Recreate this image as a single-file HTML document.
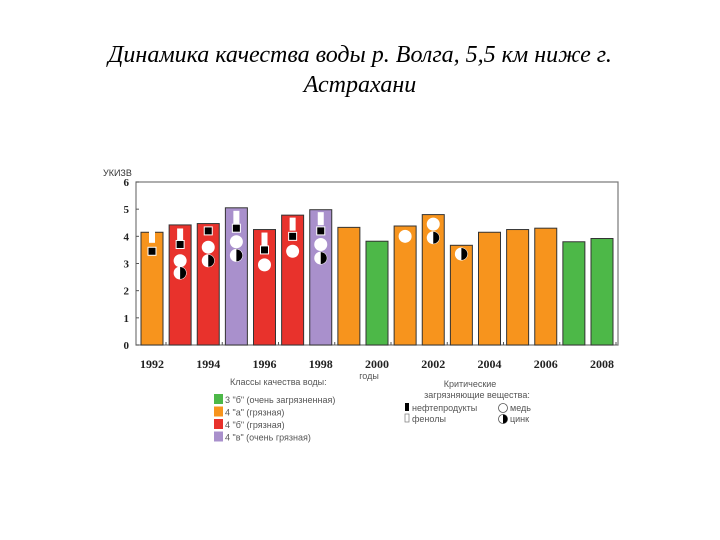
<!DOCTYPE html>
<html><head><meta charset="utf-8"><style>
body{margin:0;width:720px;height:540px;background:#fff;overflow:hidden;position:relative;font-family:"Liberation Sans",sans-serif}
#title{position:absolute;left:0;top:40px;width:720px;text-align:center;font-family:"Liberation Serif",serif;font-style:italic;font-size:24px;line-height:30px;color:#000}
svg{position:absolute;left:0;top:0}
</style></head><body>
<div id="title">Динамика качества воды р. Волга, 5,5 км ниже г.<br>Астрахани</div>
<svg id="c" width="720" height="540"></svg>
<script>
const years=[1992,1993,1994,1995,1996,1997,1998,1999,2000,2001,2002,2003,2004,2005,2006,2007,2008];
const values=[4.15,4.42,4.47,5.05,4.25,4.78,4.98,4.33,3.82,4.38,4.8,3.67,4.15,4.25,4.3,3.8,3.92];
const classes=["a","b","b","v","b","b","v","a","g","a","a","a","a","a","a","g","g"];
const phenol={1992:4.0,1993:4.05,1995:4.7,1996:3.9,1997:4.45,1998:4.65};
const oil={1992:3.45,1993:3.7,1994:4.2,1995:4.3,1996:3.5,1997:4.0,1998:4.2};
const copper={1993:3.1,1994:3.6,1995:3.8,1996:2.95,1997:3.45,1998:3.7,2001:4.0,2002:4.45};
const zinc={1993:2.65,1994:3.1,1995:3.3,1998:3.2,2002:3.95,2003:3.35};
const yTicks=[0,1,2,3,4,5,6];
const xLabels=[1992,1994,1996,1998,2000,2002,2004,2006,2008];
const colors={a:"#f7941d",b:"#e8322c",v:"#a990cc",g:"#4db848"};
const svg=document.getElementById('c');const NS="http://www.w3.org/2000/svg";
const L=136,R=618,T=182,B=345;
const y=v=>B-(B-T)*v/6;
const x=yr=>141+(yr-1992)*28.125;
const BW=22;
function mk(t,a,txt){const e=document.createElementNS(NS,t);for(const k in a)e.setAttribute(k,a[k]);if(txt!=null)e.textContent=txt;svg.appendChild(e);return e;}
let e=mk('rect',{x:L,y:T,width:R-L,height:B-T,fill:'none',stroke:'#777','stroke-width':1.2});

e=mk('text',{x:103,y:176,'font-size':9,fill:'#333'},'УКИЗВ');

yTicks.forEach(t=>{
 e=mk('text',{x:129,y:y(t)+4,'font-size':11,'font-weight':'bold','font-family':'Liberation Serif','text-anchor':'end',fill:'#222'},t);
 
 mk('line',{x1:L,x2:L+3,y1:y(t),y2:y(t),stroke:'#555'});
});
years.forEach((yr,i)=>{
 e=mk('rect',{x:x(yr),y:y(values[i]),width:BW,height:B-y(values[i]),fill:colors[classes[i]],stroke:'#333','stroke-width':1});
 
 const cx=x(yr)+BW/2;
 if(phenol[yr]!=null){e=mk('rect',{x:cx-2.5,y:y(phenol[yr])-6,width:5,height:12,fill:'#fff',stroke:'#fff'});}
 if(oil[yr]!=null){e=mk('rect',{x:cx-4,y:y(oil[yr])-4,width:8,height:8,fill:'#000',stroke:'#fff','stroke-width':1});}
 if(copper[yr]!=null){e=mk('circle',{cx:cx,cy:y(copper[yr]),r:6,fill:'#fff',stroke:'#fff'});}
 if(zinc[yr]!=null){const cy=y(zinc[yr]);e=mk('circle',{cx:cx,cy:cy,r:6,fill:'#fff',stroke:'#fff'});
  mk('path',{d:`M${cx},${cy-6} A6,6 0 0 1 ${cx},${cy+6} Z`,fill:'#000'});}
});
xLabels.forEach(yr=>{
 const cx=x(yr)+BW/2;
 mk('line',{x1:cx+14,x2:cx+14,y1:B,y2:B-3,stroke:'#555'});
 e=mk('text',{x:cx,y:368,'font-size':12,'font-weight':'bold','font-family':'Liberation Serif','text-anchor':'middle',fill:'#222'},yr);
 
});
e=mk('text',{x:369,y:379,'font-size':9,fill:'#555','text-anchor':'middle'},'годы');

mk('text',{x:230,y:385,'font-size':9,fill:'#555'},'Классы качества воды:');
const legItems=[["g",'3 "б" (очень загрязненная)'],["a",'4 "а" (грязная)'],["b",'4 "б" (грязная)'],["v",'4 "в" (очень грязная)']];
legItems.forEach((it,k)=>{
 e=mk('rect',{x:214,y:394+k*12.5,width:9,height:10,fill:colors[it[0]]});
 e=mk('text',{x:225,y:403+k*12.5,'font-size':9,fill:'#555'},it[1]);
});
mk('text',{x:470,y:387,'font-size':9,fill:'#555','text-anchor':'middle'},'Критические');
mk('text',{x:477,y:398,'font-size':9,fill:'#555','text-anchor':'middle'},'загрязняющие вещества:');
mk('rect',{x:405,y:403,width:4,height:8,fill:'#000'});
mk('text',{x:412,y:411,'font-size':9,fill:'#555'},'нефтепродукты');
mk('rect',{x:405,y:414,width:4,height:8,fill:'#fff',stroke:'#777','stroke-width':0.7});
mk('text',{x:412,y:422,'font-size':9,fill:'#555'},'фенолы');
mk('circle',{cx:503,cy:408,r:4.5,fill:'#fff',stroke:'#555','stroke-width':0.8});
mk('text',{x:510,y:411,'font-size':9,fill:'#555'},'медь');
mk('circle',{cx:503,cy:419,r:4.5,fill:'#fff',stroke:'#555','stroke-width':0.8});
mk('path',{d:'M503,414.5 A4.5,4.5 0 0 1 503,423.5 Z',fill:'#000'});
mk('text',{x:510,y:422,'font-size':9,fill:'#555'},'цинк');
</script>
</body></html>
